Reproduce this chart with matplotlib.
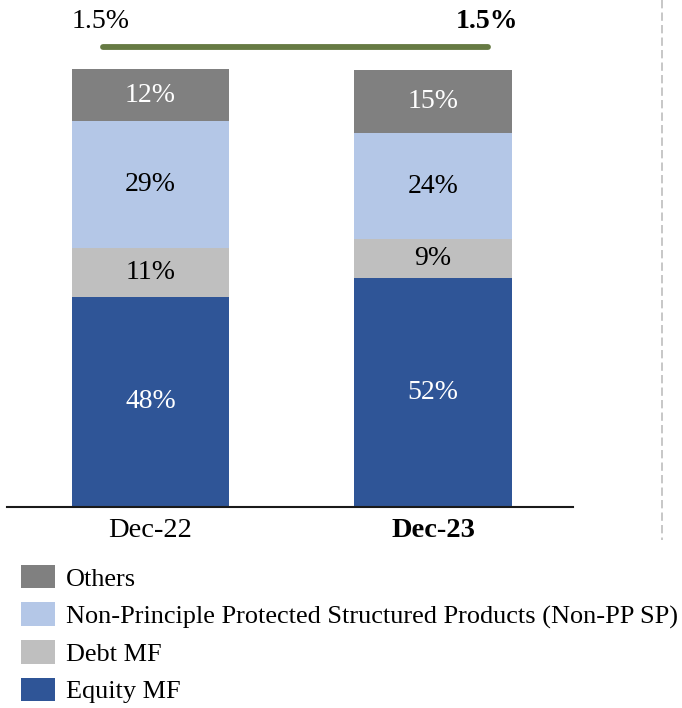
import matplotlib
matplotlib.use("Agg")
import matplotlib.pyplot as plt
from matplotlib.patches import Patch
from matplotlib.lines import Line2D
import numpy as np

categories = ["Dec-22", "Dec-23"]
series_names = ["Equity MF", "Debt MF", "Non-Principle Protected Structured Products (Non-PP SP)", "Others"]
equity_mf = [48.0, 52.3]
debt_mf = [11.2, 8.9]
non_pp_sp = [29.1, 24.2]
others = [11.7, 14.6]
top_labels = ["1.5%", "1.5%"]

colors = ["#2f5597", "#bfbfbf", "#b4c7e7", "#808080"]
text_colors = ["white", "black", "black", "white"]

plt.rcParams['font.family'] = ['Liberation Serif', 'DejaVu Serif']

W, H = 682, 708
fig = plt.figure(figsize=(W / 100, H / 100), dpi=100)

# axes placement in pixels
ax_left, ax_right = 7, 573
base_y, top_y = 507, 69.5
ax = fig.add_axes([ax_left / W, (H - base_y) / H, (ax_right - ax_left) / W, base_y / H])
c0, c1 = 150.5, 433
unit = c1 - c0
ax.set_xlim(-(c0 - ax_left) / unit, 1 + (ax_right - c1) / unit)
ax.set_ylim(0, 100 * base_y / (base_y - top_y))

x = np.arange(len(categories))
bw = 157.5 / unit
bottom = np.zeros(len(categories))
for vals, col, tcol in zip([equity_mf, debt_mf, non_pp_sp, others], colors, text_colors):
    vals = np.array(vals, dtype=float)
    ax.bar(x, vals, bw, bottom=bottom, color=col, edgecolor="none", zorder=2)
    for xi, v, b in zip(x, vals, bottom):
        ax.text(xi, b + v / 2, f"{v:.0f}%", ha="center", va="center",
                color=tcol, fontsize=20, zorder=3)
    bottom += vals

for s in ["top", "right", "left"]:
    ax.spines[s].set_visible(False)
ax.spines["bottom"].set_linewidth(1.5)
ax.spines["bottom"].set_color("#1a1a1a")
ax.set_yticks([])
ax.set_xticks(x)
ax.set_xticklabels(categories, fontsize=20.5)
ax.get_xticklabels()[1].set_fontweight("bold")
ax.tick_params(axis="x", length=0, pad=8)

# growth line and labels
ly = 100 + (top_y - 47) / (base_y - top_y) * 100
lx0 = (103 - c0) / unit
lx1 = (488 - c0) / unit
ax.plot([lx0, lx1], [ly, ly], color="#667a43", lw=4.2, solid_capstyle="round", zorder=3, clip_on=False)
ty = 100 + (top_y - 21) / (base_y - top_y) * 100
ax.text((101 - c0) / unit, ty, top_labels[0], ha="center", va="center", fontsize=20, clip_on=False)
ax.text((487 - c0) / unit, ty, top_labels[1], ha="center", va="center", fontsize=20,
        fontweight="bold", clip_on=False)

# dashed separator
fig.add_artist(Line2D([662 / W, 662 / W], [1, (H - 540) / H], color="#bdbdbd", lw=1.2,
                      linestyle=(0, (5, 2.5)), transform=fig.transFigure))

# legend
handles = [Patch(facecolor=c, edgecolor="none") for c in colors[::-1]]
fig.legend(handles, series_names[::-1], loc="upper left",
           bbox_to_anchor=(21 / W, (H - 565) / H), frameon=False, fontsize=18.9,
           handlelength=1.295, handleheight=1.0, handletextpad=0.42, labelspacing=0.446,
           borderaxespad=0, borderpad=0)

fig.savefig("out.png", dpi=100)
